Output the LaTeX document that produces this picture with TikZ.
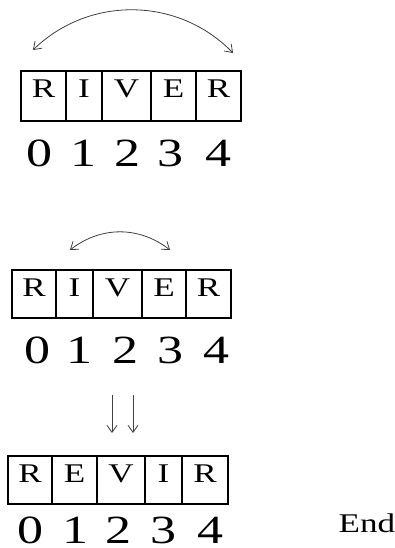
\documentclass[tikz,border=0pt]{standalone}
\usepackage{fontspec}
\setmainfont[FakeStretch=1.3]{Liberation Serif}
\usetikzlibrary{arrows.meta}

\begin{document}
\begin{tikzpicture}[x=1pt,y=-1pt,
 cell/.style={draw,line width=1.1pt,inner sep=0pt,minimum height=48pt,
 text height=16pt,text depth=12pt,font=\fontsize{27}{29}\selectfont},
 idx/.style={anchor=base,inner sep=0pt,font=\fontsize{40}{42}\selectfont},
 swap/.style={{Straight Barb[length=7pt,width=10pt]}-{Straight Barb[length=7pt,width=10pt]},
 thick,draw=black!75},
 drop/.style={-{Straight Barb[length=7pt,width=10pt]},thick,draw=black!75}]
 \useasboundingbox (0,0) rectangle (394,548);
 % first array: swap ends
 \node[cell,minimum width=45pt,minimum height=50pt] (a0) at (43.5,96) {R};
 \node[cell,minimum width=36pt,minimum height=50pt] (a1) at (84,96) {I};
 \node[cell,minimum width=49pt,minimum height=50pt] (a2) at (126.5,96) {V};
 \node[cell,minimum width=45pt,minimum height=50pt] (a3) at (173.5,96) {E};
 \node[cell,minimum width=45pt,minimum height=50pt] (a4) at (218.5,96) {R};
 \node[idx] (ia0) at (39,167) {0};
 \node[idx] (ia1) at (83,167) {1};
 \node[idx] (ia2) at (127,167) {2};
 \node[idx] (ia3) at (170,167) {3};
 \node[idx] (ia4) at (218,167) {4};
 \coordinate (swapa) at (33,50);
 \coordinate (swapb) at (233,53);
 \draw[swap] (swapa) to[bend left=45] (swapb);
 % second array: swap inner pair
 \node[cell,minimum width=44pt] (b0) at (34,294) {R};
 \node[cell,minimum width=37pt] (b1) at (74.5,294) {I};
 \node[cell,minimum width=49pt] (b2) at (117.5,294) {V};
 \node[cell,minimum width=44pt] (b3) at (164,294) {E};
 \node[cell,minimum width=45pt] (b4) at (208.5,294) {R};
 \node[idx] (ib0) at (37,363) {0};
 \node[idx] (ib1) at (79,363) {1};
 \node[idx] (ib2) at (125,363) {2};
 \node[idx] (ib3) at (170,363) {3};
 \node[idx] (ib4) at (216,363) {4};
 \coordinate (swapc) at (70,250);
 \coordinate (swapd) at (170,250);
 \draw[swap] (swapc) to[bend left=38] (swapd);
 % third array: pointers meet
 \node[cell,minimum width=44pt] (c0) at (30,480) {R};
 \node[cell,minimum width=45pt] (c1) at (74.5,480) {E};
 \node[cell,minimum width=48pt] (c2) at (121,480) {V};
 \node[cell,minimum width=37pt] (c3) at (163.5,480) {I};
 \node[cell,minimum width=46pt] (c4) at (205,480) {R};
 \node[idx] (ic0) at (30,543) {0};
 \node[idx] (ic1) at (75,543) {1};
 \node[idx] (ic2) at (118,543) {2};
 \node[idx] (ic3) at (163,543) {3};
 \node[idx] (ic4) at (210,543) {4};
 \coordinate (dropa) at (112,395);
 \coordinate (dropb) at (133,395);
 \coordinate (hita) at (112,433);
 \coordinate (hitb) at (133,433);
 \draw[drop] (dropa) -- (hita);
 \draw[drop] (dropb) -- (hitb);
 \node[anchor=base,inner sep=0pt,font=\fontsize{27}{29}\selectfont] (end) at (367,532) {End};
\end{tikzpicture}
\end{document}
